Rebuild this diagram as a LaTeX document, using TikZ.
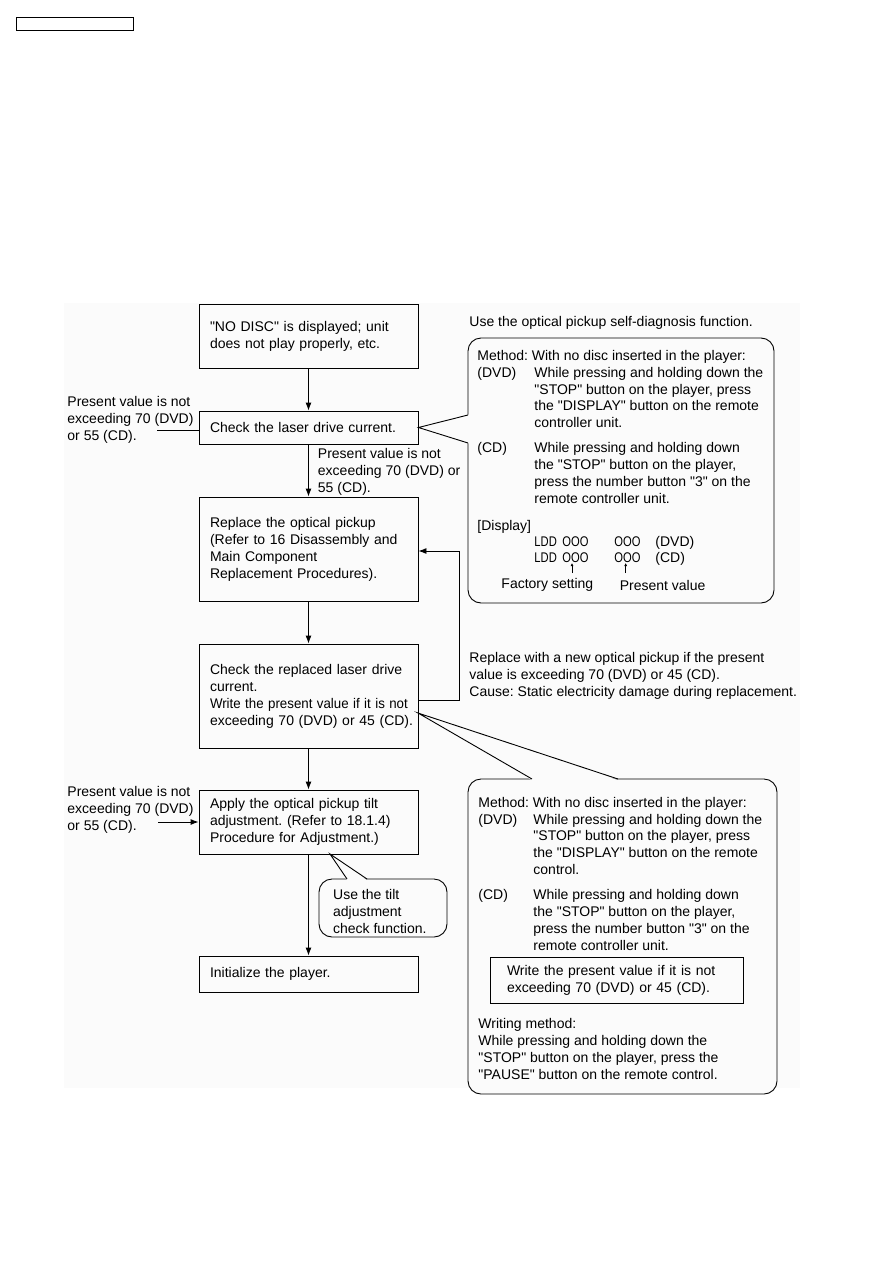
\documentclass[tikz,border=0pt]{standalone}
\usepackage{fontspec}
\setmainfont{Liberation Sans}
\usepackage{xcolor,tikz}
\usetikzlibrary{arrows.meta,positioning,calc}
\definecolor{pagebg}{gray}{0.985}
\newcommand{\narrowtxt}[1]{\scalebox{0.8}[1]{#1}}
\newcommand{\dq}{\textquotedbl}
\frenchspacing

\begin{document}
\begin{tikzpicture}[x=1pt,y=-1pt,line width=0.9pt,
  txt/.style={font=\fontsize{14}{17}\selectfont,inner sep=0pt,align=left},
  tabtxt/.style={font=\fontsize{14}{16.8}\selectfont,inner sep=0pt},
  flowbox/.style={draw,font=\fontsize{14}{17}\selectfont,align=left,text width=197pt,inner xsep=11pt,inner ysep=0pt},
  note/.style={draw,rounded corners=13pt,fill=pagebg,inner sep=0pt},
  arr/.style={-{Latex[length=8pt,width=6pt]}},
  tinyarr/.style={-{Latex[length=3pt,width=3pt]},line width=0.6pt}]
\useasboundingbox (0,0) rectangle (893,1263);
\node[draw,minimum width=117pt,minimum height=13pt,inner sep=0pt] (pagebox) at (74.5,23.5) {};
\fill[pagebg] (64,303) rectangle (800,1088);
% flow boxes
\node[flowbox,minimum height=64pt] (nodisc) at (308.5,336) {\dq{}NO DISC\dq{} is displayed; unit\\does not play properly, etc.};
\node[flowbox,minimum height=33pt] (laser) at (308.5,427.5) {Check the laser drive current.};
\node[flowbox,minimum height=104pt] (replace) at (308.5,549) {Replace the optical pickup\\(Refer to 16 Disassembly and\\Main Component\\Replacement Procedures).};
\node[flowbox,minimum height=104pt] (recheck) at (308.5,696) {Check the replaced laser drive\\current.\\\scalebox{0.95}[1]{Write the present value if it is not}\\\mbox{exceeding 70 (DVD) or 45 (CD).}};
\node[flowbox,minimum height=64pt] (tilt) at (308.5,822) {Apply the optical pickup tilt\\adjustment. (Refer to 18.1.4)\\Procedure for Adjustment.)};
\node[flowbox,minimum height=36pt] (init) at (308.5,974) {Initialize the player.};
\draw[arr] (nodisc) -- (laser);
\draw[arr] (laser) -- (replace);
\draw[arr] (replace) -- (recheck);
\draw[arr] (recheck) -- (tilt);
\draw[arr] (tilt) -- (init);
% side labels
\node[txt,anchor=west] (cond1) at (67,420) {Present value is not\\exceeding 70 (DVD)\\or 55 (CD).};
\coordinate (c1) at (157,430);
\draw (c1) -- (c1 -| laser.west);
\node[txt,anchor=west] (cond2) at (317.5,472) {Present value is not\\exceeding 70 (DVD) or\\55 (CD).};
\node[txt,anchor=west] (cond3) at (67,810) {Present value is not\\exceeding 70 (DVD)\\or 55 (CD).};
\coordinate (c3) at (158,822);
\draw[arr] (c3) -- (c3 -| tilt.west);
% feedback loop
\coordinate (fbl) at (459,700);
\coordinate (fbu) at (459,551);
\draw[arr] (fbl -| recheck.east) -- (fbl) -- (fbu) -- (fbu -| replace.east);
\node[txt,anchor=west] (fbnote) at (469,676) {Replace with a new optical pickup if the present\\value is exceeding 70 (DVD) or 45 (CD).\\Cause: Static electricity damage during replacement.};
% self-diagnosis callout
\node[txt,anchor=west] (diaghead) at (469,322.7) {Use the optical pickup self-diagnosis function.};
\node[note,minimum width=306pt,minimum height=265pt] (diag1) at (621,470.5) {};
\fill[pagebg] (laser.east) -- (469.2,414.5) -- (469.2,443.5) -- cycle;
\coordinate (d1a) at (468,415);
\coordinate (d1b) at (468,443);
\draw (d1a) -- (laser.east) -- (d1b);
\node[tabtxt,anchor=north west] (diag1txt) at (477,348.2) {\begin{tabular}{@{}p{57pt}@{}l@{}}
\multicolumn{2}{@{}l@{}}{Method: With no disc inserted in the player:}\\
(DVD) & While pressing and holding down the\\
 & \dq{}STOP\dq{} button on the player, press\\
 & the \dq{}DISPLAY\dq{} button on the remote\\
 & controller unit.\\[8.5pt]
(CD) & While pressing and holding down\\
 & the \dq{}STOP\dq{} button on the player,\\
 & press the number button \dq{}3\dq{} on the\\
 & remote controller unit.\\[10pt]
\multicolumn{2}{@{}l@{}}{[Display]}\\[-0.8pt]
 & \makebox[28pt][l]{\narrowtxt{LDD}}\makebox[52pt][l]{\narrowtxt{OOO}}\makebox[41pt][l]{\narrowtxt{OOO}}(DVD)\\[-0.8pt]
 & \makebox[28pt][l]{\narrowtxt{LDD}}\makebox[52pt][l]{\narrowtxt{OOO}}\makebox[41pt][l]{\narrowtxt{OOO}}(CD)
\end{tabular}};
\coordinate (fsarr) at (572,573);
\coordinate (pvarr) at (625.7,573);
\draw[tinyarr] (fsarr) -- ++(0,-10);
\draw[tinyarr] (pvarr) -- ++(0,-10);
\node[txt,anchor=west] (factory) at (501,585) {Factory setting};
\node[txt,anchor=west] (present) at (619.3,585) {Present value};
% writing callout
\node[note,minimum width=309pt,minimum height=315pt] (diag2) at (622.5,936.5) {};
\coordinate (tip2) at (418,713);
\fill[pagebg] (tip2) -- (532,780.2) -- (618,780.2) -- cycle;
\coordinate (d2a) at (532,779);
\coordinate (d2b) at (618,779);
\draw (d2a) -- (tip2) -- (d2b);
\node[tabtxt,anchor=north west] (diag2txt) at (478,795) {\begin{tabular}{@{}p{55pt}@{}l@{}}
\multicolumn{2}{@{}l@{}}{Method: With no disc inserted in the player:}\\
(DVD) & While pressing and holding down the\\
 & \dq{}STOP\dq{} button on the player, press\\
 & the \dq{}DISPLAY\dq{} button on the remote\\
 & control.\\[8.5pt]
(CD) & While pressing and holding down\\
 & the \dq{}STOP\dq{} button on the player,\\
 & press the number button \dq{}3\dq{} on the\\
 & remote controller unit.
\end{tabular}};
\node[draw,font=\fontsize{14}{17}\selectfont,align=left,text width=219pt,inner xsep=17pt,inner ysep=0pt,minimum height=46pt] (writebox) at (616.5,980) {Write the present value if it is not\\exceeding 70 (DVD) or 45 (CD).};
\node[txt,anchor=west] (writemeth) at (478,1049) {Writing method:\\While pressing and holding down the\\\dq{}STOP\dq{} button on the player, press the\\\dq{}PAUSE\dq{} button on the remote control.};
% tilt check callout
\node[note,minimum width=128pt,minimum height=58pt] (tiltnote) at (383,908) {};
\coordinate (tip3) at (330,854);
\fill[pagebg] (tip3) -- (347,880.2) -- (367,880.2) -- cycle;
\coordinate (t3a) at (347,879);
\coordinate (t3b) at (367,879);
\draw (t3a) -- (tip3) -- (t3b);
\node[txt,anchor=west] (tilttxt) at (332.7,911) {Use the tilt\\adjustment\\check function.};
\end{tikzpicture}
\end{document}
